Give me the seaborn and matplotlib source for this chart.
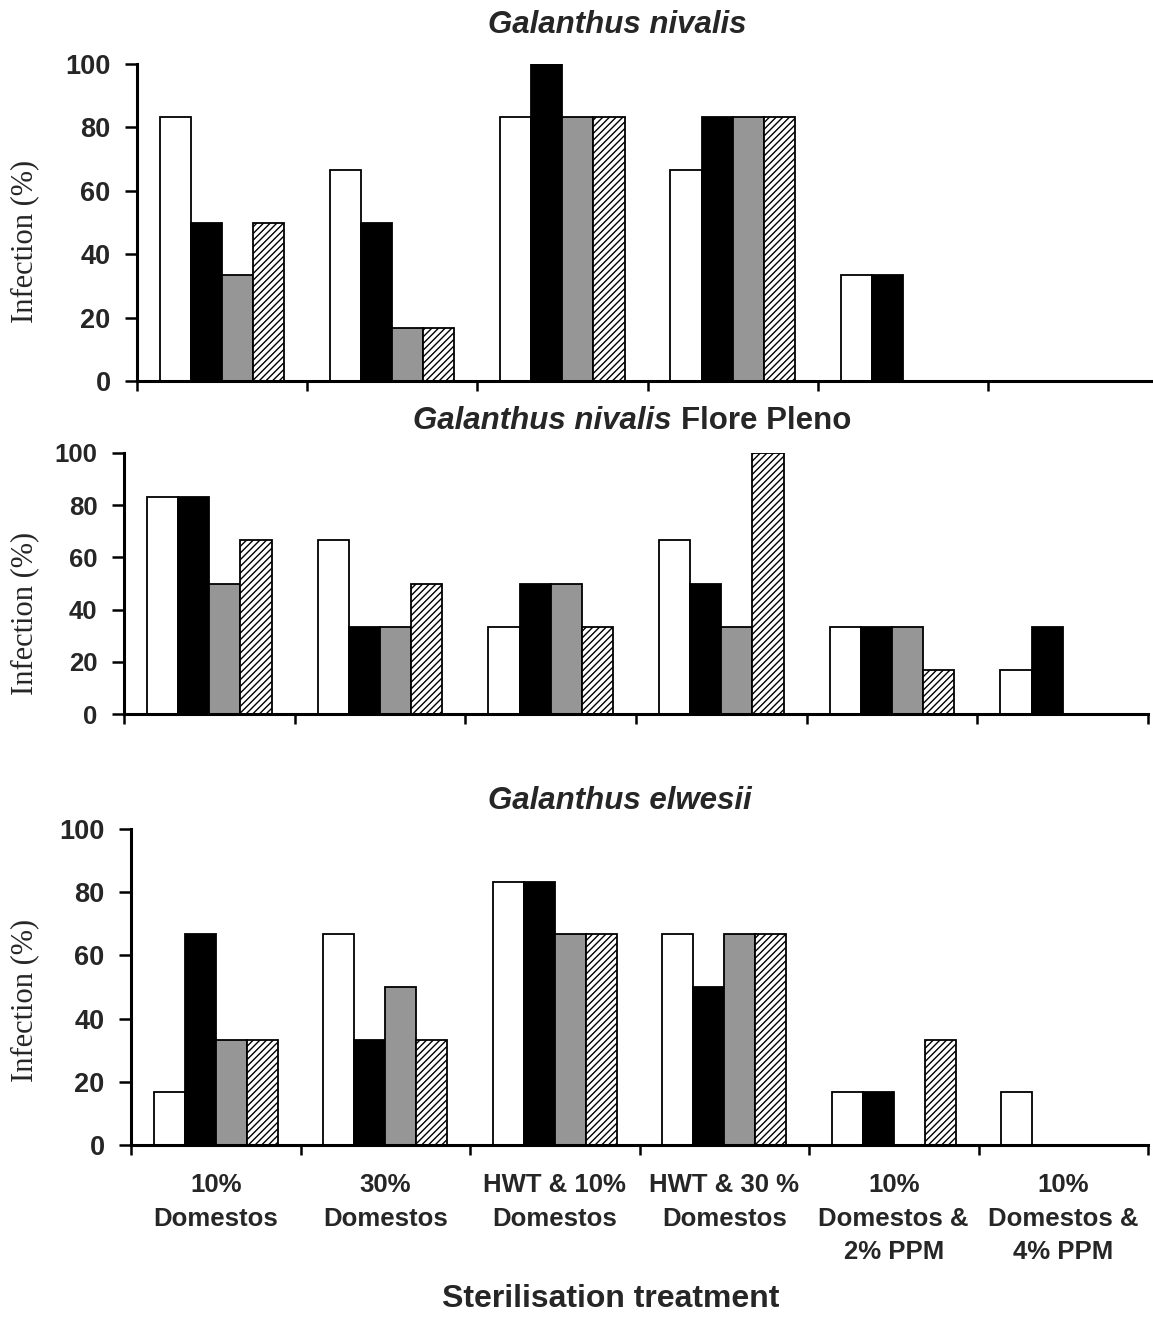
import matplotlib
matplotlib.use("Agg")
import matplotlib.pyplot as plt
import seaborn as sns
import pandas as pd
from matplotlib.ticker import FixedLocator

sns.set_theme(style="white")
plt.rcParams['font.family'] = ['Liberation Sans', 'DejaVu Sans']
plt.rcParams['hatch.linewidth'] = 1.0

treatments = ["10%\nDomestos", "30%\nDomestos", "HWT & 10%\nDomestos",
              "HWT & 30 %\nDomestos", "10%\nDomestos &\n2% PPM", "10%\nDomestos &\n4% PPM"]
series = ["S1", "S2", "S3", "S4"]

nivalis = {
    "S1": [83.3, 66.7, 83.3, 66.7, 33.3, 0],
    "S2": [50, 50, 100, 83.3, 33.3, 0],
    "S3": [33.3, 16.7, 83.3, 83.3, 0, 0],
    "S4": [50, 16.7, 83.3, 83.3, 0, 0],
}
flore_pleno = {
    "S1": [83.3, 66.7, 33.3, 66.7, 33.3, 16.7],
    "S2": [83.3, 33.3, 50, 50, 33.3, 33.3],
    "S3": [50, 33.3, 50, 33.3, 33.3, 0],
    "S4": [66.7, 50, 33.3, 100, 16.7, 0],
}
elwesii = {
    "S1": [16.7, 66.7, 83.3, 66.7, 16.7, 16.7],
    "S2": [66.7, 33.3, 83.3, 50, 16.7, 0],
    "S3": [33.3, 50, 66.7, 66.7, 0, 0],
    "S4": [33.3, 33.3, 66.7, 66.7, 33.3, 0],
}

colors = ["#ffffff", "#000000", "#969696", "#ffffff"]

W, H = 1153, 1317
fig = plt.figure(figsize=(W / 100, H / 100), dpi=100)


def axpos(left, right, top, bottom):
    return [left / W, 1 - bottom / H, (right - left) / W, (bottom - top) / H]


def to_df(d):
    rows = []
    for s in series:
        for t, v in zip(treatments, d[s]):
            rows.append({"treatment": t, "series": s, "value": v})
    return pd.DataFrame(rows)


panels = [
    (nivalis, axpos(137, 1158, 64, 381), 19.5),
    (flore_pleno, axpos(124, 1148, 453, 714), 18.5),
    (elwesii, axpos(131, 1148, 829, 1145), 19.5),
]

axes = []
for i, (d, pos, yfs) in enumerate(panels):
    ax = fig.add_axes(pos)
    df = to_df(d)
    sns.barplot(data=df, x="treatment", y="value", hue="series",
                order=treatments, hue_order=series, palette=colors,
                width=0.73, edgecolor="black", linewidth=1.3,
                legend=False, ax=ax, saturation=1, errorbar=None)
    for bar in ax.containers[3]:
        bar.set_hatch("/////")
    ax.set_xlim(-0.5, 5.5)
    ax.set_ylim(0, 100)
    ax.set_yticks([0, 20, 40, 60, 80, 100])
    ax.set_yticklabels(["0", "20", "40", "60", "80", "100"],
                       fontsize=yfs, fontweight="bold")
    ax.set_xlabel("")
    ax.set_ylabel("")
    for s in ["top", "right"]:
        ax.spines[s].set_visible(False)
    for s in ["left", "bottom"]:
        ax.spines[s].set_linewidth(2.2)
        ax.spines[s].set_color("black")
    ax.xaxis.set_minor_locator(FixedLocator([k - 0.5 for k in range(7)]))
    ax.tick_params(axis="x", which="minor", direction="out", length=7,
                   width=1.8, color="black", bottom=True)
    ax.tick_params(axis="x", which="major", length=0, pad=20.5)
    ax.tick_params(axis="y", direction="out", length=9, width=1.8,
                   color="black", left=True, pad=10)
    if i < 2:
        ax.set_xticklabels([])
    else:
        ax.set_xticks(range(6))
        ax.set_xticklabels(treatments, fontsize=18.5, fontweight="bold",
                           linespacing=1.48)
    ax.set_facecolor("none")
    axes.append(ax)

# y labels
for yc in [241, 613, 1000]:
    fig.text(25 / W, 1 - yc / H, "Infection (%)", rotation=90,
             ha="center", va="center", fontsize=22,
             family=["Liberation Serif", "DejaVu Serif"])

# titles
fig.text(617 / W, 1 - 25 / H, "Galanthus nivalis", ha="center", va="center",
         fontsize=22.5, fontweight="bold", style="italic")
fig.text(672 / W, 1 - 421 / H, "Galanthus nivalis", ha="right", va="center",
         fontsize=22.5, fontweight="bold", style="italic")
fig.text(681 / W, 1 - 421 / H, "Flore Pleno", ha="left", va="center",
         fontsize=22.5, fontweight="bold")
fig.text(620 / W, 1 - 801 / H, "Galanthus elwesii", ha="center", va="center",
         fontsize=22.5, fontweight="bold", style="italic")

fig.text(611 / W, 1 - 1299 / H, "Sterilisation treatment", ha="center",
         va="center", fontsize=23, fontweight="bold")

fig.savefig("out.png", dpi=100, facecolor="white")
